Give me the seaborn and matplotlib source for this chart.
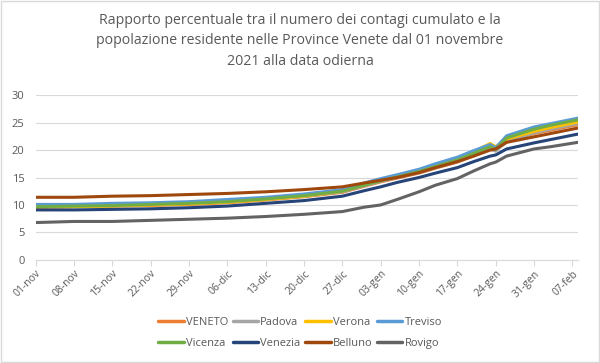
import pandas as pd
import matplotlib
import matplotlib.pyplot as plt
import seaborn as sns

matplotlib.use('Agg')

# date di campionamento (letture dal grafico)
dates = ["2021-11-01", "2021-11-08", "2021-11-15", "2021-11-22", "2021-11-29",
         "2021-12-06", "2021-12-13", "2021-12-20", "2021-12-27", "2021-12-31",
         "2022-01-03", "2022-01-06", "2022-01-10", "2022-01-13", "2022-01-17",
         "2022-01-20", "2022-01-23", "2022-01-24", "2022-01-26", "2022-01-31",
         "2022-02-03", "2022-02-08"]

veneto = [9.6, 9.7, 9.8, 9.9, 10.1, 10.4, 10.9, 11.5, 12.3, 13.4, 14.2,
          14.9, 15.8, 16.7, 17.8, 19.0, 20.2, 19.9, 21.5, 23.0, 23.6, 24.6]
padova = [9.7, 9.8, 9.9, 10.1, 10.3, 10.6, 11.0, 11.6, 12.4, 13.5, 14.3,
          15.0, 15.9, 16.8, 17.9, 19.0, 20.2, 19.8, 21.6, 23.1, 23.8, 24.8]
verona = [9.6, 9.7, 9.8, 10.0, 10.2, 10.5, 11.0, 11.6, 12.5, 13.7, 14.6,
          15.4, 16.3, 17.2, 18.4, 19.7, 21.2, 20.6, 22.0, 23.4, 24.1, 25.1]
treviso = [10.1, 10.1, 10.3, 10.4, 10.6, 11.0, 11.4, 12.0, 12.8, 14.0, 14.8,
           15.5, 16.5, 17.5, 18.7, 19.9, 21.0, 20.4, 22.6, 24.2, 24.8, 25.8]
vicenza = [9.7, 9.8, 9.9, 10.1, 10.3, 10.6, 11.1, 11.7, 12.5, 13.6, 14.4,
           15.1, 16.1, 17.0, 18.2, 19.4, 20.6, 20.1, 22.2, 23.8, 24.5, 25.5]
venezia = [9.1, 9.1, 9.2, 9.3, 9.5, 9.8, 10.3, 10.8, 11.6, 12.6, 13.3,
           14.1, 15.0, 15.8, 16.8, 17.9, 18.9, 19.1, 20.2, 21.3, 21.9, 22.9]
belluno = [11.4, 11.4, 11.6, 11.7, 11.9, 12.1, 12.4, 12.8, 13.3, 14.0, 14.5,
           15.0, 15.9, 16.8, 17.9, 18.9, 20.0, 20.2, 21.4, 22.4, 23.0, 24.0]
rovigo = [6.8, 7.0, 7.0, 7.2, 7.4, 7.6, 7.9, 8.3, 8.8, 9.6, 10.0,
          11.0, 12.4, 13.6, 14.8, 16.2, 17.5, 17.8, 18.9, 20.2, 20.6, 21.4]

province = ["VENETO", "Padova", "Verona", "Treviso",
            "Vicenza", "Venezia", "Belluno", "Rovigo"]
serie = [veneto, padova, verona, treviso, vicenza, venezia, belluno, rovigo]
colori = ["#ED7D31", "#A5A5A5", "#FFC000", "#5B9BD5",
          "#70AD47", "#264478", "#9E480E", "#636363"]

mesi = {11: "nov", 12: "dic", 1: "gen", 2: "feb"}

rows = []
for nome, vals in zip(province, serie):
    for d, v in zip(dates, vals):
        rows.append({"Data": pd.Timestamp(d), "Provincia": nome, "Valore": v})
df = pd.DataFrame(rows)

sns.set_style("white")
plt.rcParams['font.family'] = ['Open Sans', 'DejaVu Sans']

fig = plt.figure(figsize=(6, 3.63), dpi=100)
ax = fig.add_axes([0.0595, 0.284, 0.9035, 0.454])

sns.lineplot(data=df, x="Data", y="Valore", hue="Provincia",
             hue_order=province, palette=colori, linewidth=2.2,
             ax=ax, legend=False)

ax.set_ylim(0, 30)
ax.set_yticks(range(0, 31, 5))
ax.set_xlim(pd.Timestamp("2021-11-01"), pd.Timestamp("2022-02-08"))
ticks = pd.date_range("2021-11-01", "2022-02-07", freq="7D")
ax.set_xticks(ticks)
ax.set_xticklabels([f"{t.day:02d}-{mesi[t.month]}" for t in ticks],
                   rotation=45, ha="right", rotation_mode="anchor")
ax.grid(axis="y", color="#D9D9D9", linewidth=0.8)
ax.set_axisbelow(True)
for s in ["top", "right", "left"]:
    ax.spines[s].set_visible(False)
ax.spines["bottom"].set_color("#D9D9D9")
ax.tick_params(axis="x", colors="#595959", labelsize=7.5, length=4,
               color="#D9D9D9", direction="out", bottom=True, pad=2)
ax.tick_params(axis="y", colors="#595959", labelsize=8, length=0, pad=8)
ax.set_xlabel("")
ax.set_ylabel("")

fig.text(0.5, 0.965, "Rapporto percentuale tra il numero dei contagi cumulato e la\n"
         "popolazione residente nelle Province Venete dal 01 novembre\n"
         "2021 alla data odierna",
         ha="center", va="top", fontsize=10.2, color="#595959", linespacing=1.5)

# legenda per righe: matplotlib riempie per colonne, quindi riordino
ordine = [0, 4, 1, 5, 2, 6, 3, 7]
handles = [plt.Line2D([], [], color=colori[i], linewidth=2.5) for i in ordine]
labels = [province[i] for i in ordine]
fig.legend(handles, labels, loc="center", bbox_to_anchor=(0.5, 0.082),
           ncol=4, frameon=False, fontsize=8, labelcolor="#595959",
           handlelength=2.3, handletextpad=0.2, columnspacing=0.4,
           labelspacing=0.9)

fig.patches.append(plt.Rectangle((0.002, 0.003), 0.996, 0.994,
                                 transform=fig.transFigure, fill=False,
                                 edgecolor="#D9D9D9", linewidth=1))

fig.savefig("out.png", dpi=100)
plt.close(fig)
